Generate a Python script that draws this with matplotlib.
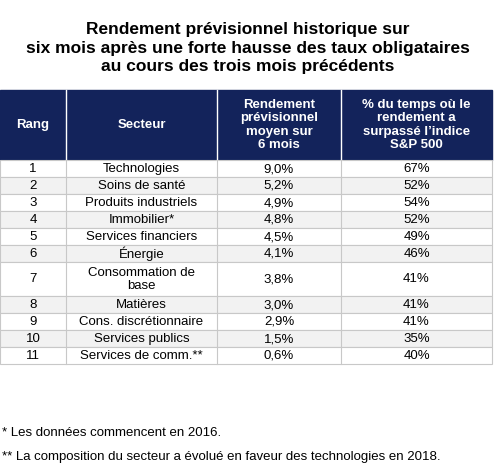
import matplotlib.pyplot as plt
from matplotlib.patches import Rectangle

plt.rcParams['font.family'] = ['Liberation Sans', 'DejaVu Sans']

titre = ("Rendement prévisionnel historique sur\n"
         "six mois après une forte hausse des taux obligataires\n"
         "au cours des trois mois précédents")
entetes = ["Rang", "Secteur", "Rendement\nprévisionnel\nmoyen sur\n6 mois",
           "% du temps où le\nrendement a\nsurpassé l’indice\nS&P 500"]
rangs = [str(i) for i in range(1, 12)]
secteurs = ["Technologies", "Soins de santé", "Produits industriels", "Immobilier*",
            "Services financiers", "Énergie", "Consommation de\nbase", "Matières",
            "Cons. discrétionnaire", "Services publics", "Services de comm.**"]
rendements = ["9,0%", "5,2%", "4,9%", "4,8%", "4,5%", "4,1%", "3,8%", "3,0%",
              "2,9%", "1,5%", "0,6%"]
surperf = ["67%", "52%", "54%", "52%", "49%", "46%", "41%", "41%", "41%", "35%", "40%"]
notes = ["* Les données commencent en 2016.",
         "** La composition du secteur a évolué en faveur des technologies en 2018."]

W, H = 496, 476
fig = plt.figure(figsize=(W / 100, H / 100), dpi=100)
ax = fig.add_axes([0, 0, 1, 1])
ax.set_xlim(0, W)
ax.set_ylim(H, 0)
ax.axis('off')

ax.text(248, 48, titre, ha='center', va='center', fontsize=12.5,
        fontweight='bold', linespacing=1.3)

cols = [0, 66, 217, 341, 492]
y0, yh = 90, 160
rowh = 17
navy = '#13235B'
ax.add_patch(Rectangle((cols[0], y0), cols[-1] - cols[0], yh - y0, color=navy))
for i, t in enumerate(entetes):
    ax.text((cols[i] + cols[i + 1]) / 2, (y0 + yh) / 2, t, color='white',
            ha='center', va='center', fontsize=9.5, fontweight='bold', linespacing=1.15)
for x in cols[1:-1]:
    ax.plot([x, x], [y0, yh], color='white', lw=1)

y = yh
for i in range(len(rangs)):
    h = rowh * 2 if '\n' in secteurs[i] else rowh
    bg = '#F2F2F2' if i % 2 else 'white'
    ax.add_patch(Rectangle((cols[0], y), cols[-1] - cols[0], h, facecolor=bg,
                           edgecolor='#C8C8C8', lw=0.8))
    vals = [rangs[i], secteurs[i], rendements[i], surperf[i]]
    for j, v in enumerate(vals):
        ax.text((cols[j] + cols[j + 1]) / 2, y + h / 2 + 0.5, v, ha='center',
                va='center', fontsize=9.5, linespacing=1.1)
    for x in cols[1:-1]:
        ax.plot([x, x], [y, y + h], color='#C8C8C8', lw=0.8)
    y += h

ax.text(2, 433, notes[0], ha='left', va='center', fontsize=9.5)
ax.text(2, 457, notes[1], ha='left', va='center', fontsize=9.5)

fig.savefig('out.png', dpi=100)
